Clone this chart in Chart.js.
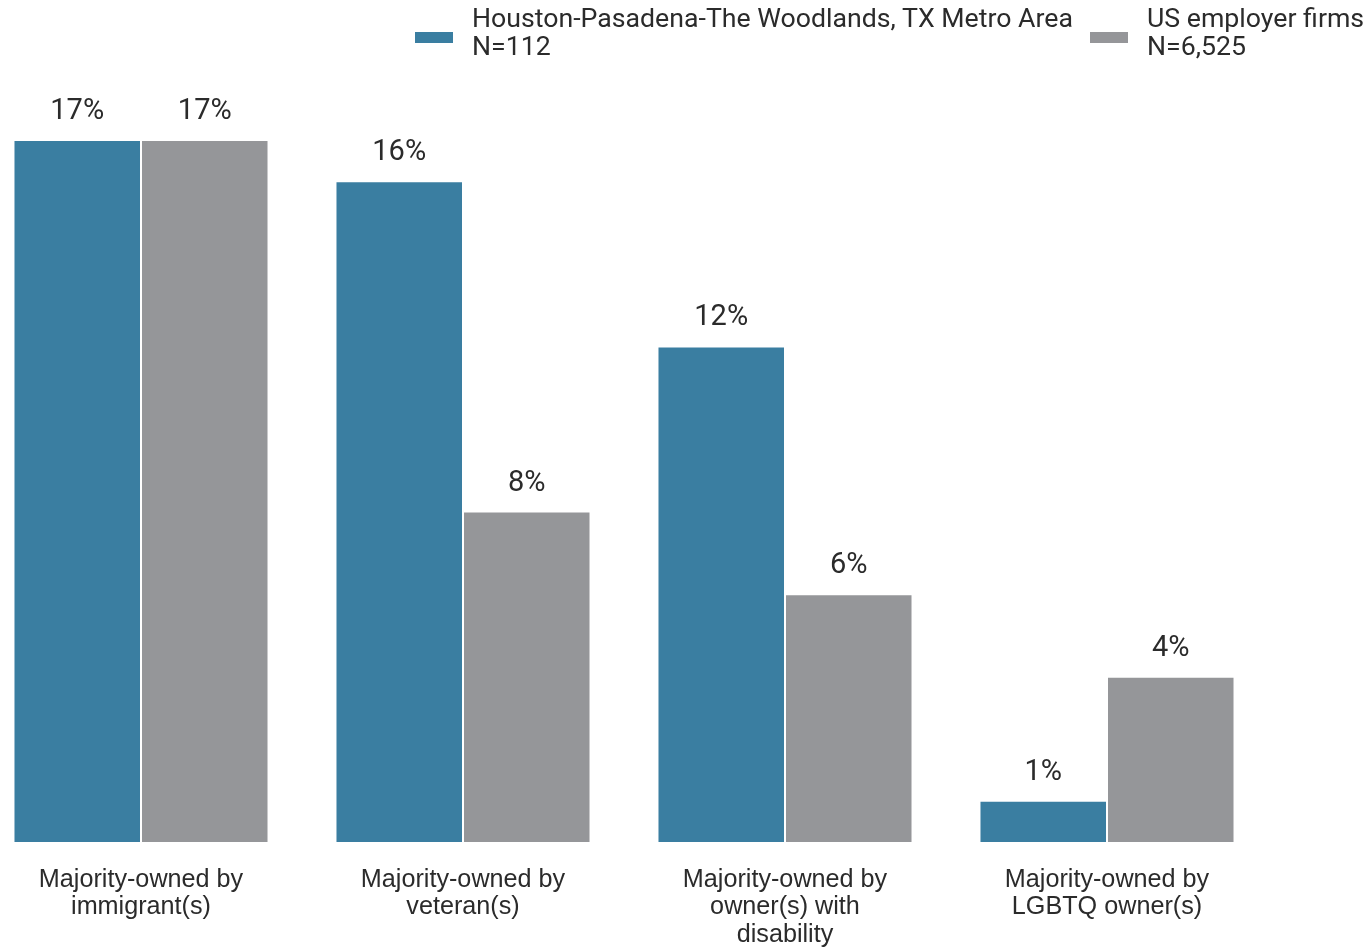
<!DOCTYPE html>
<html>
<head>
<meta charset="utf-8">
<script src="https://cdn.jsdelivr.net/npm/chart.js@4/dist/chart.umd.min.js"></script>
<style>
  html, body { margin: 0; padding: 0; background: #fff; width: 1370px; height: 947px; overflow: hidden; position: relative; }
  #wrap { position: absolute; left: -20px; top: 0; width: 1390px; height: 947px; }
  .leg { position: absolute; font-family: Roboto, sans-serif; font-weight: 400; font-size: 26.7px; line-height: 28px; color: #2b2b2b; white-space: nowrap; }
  .box { position: absolute; width: 38px; height: 11px; }
</style>
</head>
<body>
<div id="wrap"><canvas id="c"></canvas></div>
<div id="legend"></div>
<script>
const categories = [
  ["Majority-owned by", "immigrant(s)"],
  ["Majority-owned by", "veteran(s)"],
  ["Majority-owned by", "owner(s) with", "disability"],
  ["Majority-owned by", "LGBTQ owner(s)"]
];
const seriesNames = [
  ["Houston-Pasadena-The Woodlands, TX Metro Area", "N=112"],
  ["US employer firms", "N=6,525"]
];
const houstonValues = [17, 16, 12, 1];
const usValues = [17, 8, 6, 4];
const seriesColors = ["#3a7ea1", "#959699"];

// HTML legend
const legendPos = [{box: 415, text: 472}, {box: 1090, text: 1147}];
const legend = document.getElementById('legend');
seriesNames.forEach((lines, i) => {
  const b = document.createElement('div');
  b.className = 'box';
  b.style.left = legendPos[i].box + 'px';
  b.style.top = '32px';
  b.style.background = seriesColors[i];
  legend.appendChild(b);
  const t = document.createElement('div');
  t.className = 'leg';
  t.style.left = legendPos[i].text + 'px';
  t.style.top = '4px';
  t.innerHTML = lines.join('<br>');
  legend.appendChild(t);
});

const valueLabels = {
  id: 'valueLabels',
  afterDatasetsDraw(chart) {
    const ctx = chart.ctx;
    ctx.save();
    ctx.font = '400 29px Roboto, sans-serif';
    ctx.fillStyle = '#2b2b2b';
    ctx.textAlign = 'center';
    ctx.textBaseline = 'alphabetic';
    chart.data.datasets.forEach((ds, di) => {
      const meta = chart.getDatasetMeta(di);
      meta.data.forEach((bar, i) => {
        ctx.fillText(ds.data[i] + '%', bar.x, bar.y - 21);
      });
    });
    ctx.restore();
  }
};

new Chart(document.getElementById('c'), {
  type: 'bar',
  data: {
    labels: categories,
    datasets: [
      { label: seriesNames[0].join(' '), data: houstonValues, backgroundColor: seriesColors[0], borderColor: '#ffffff', borderWidth: 1 },
      { label: seriesNames[1].join(' '), data: usValues, backgroundColor: seriesColors[1], borderColor: '#ffffff', borderWidth: 1 }
    ]
  },
  options: {
    responsive: true,
    maintainAspectRatio: false,
    animation: false,
    layout: { padding: { top: 16, left: 0, right: 102, bottom: 0 } },
    categoryPercentage: 0.792,
    barPercentage: 1.0,
    plugins: { legend: { display: false }, tooltip: { enabled: false } },
    scales: {
      x: {
        grid: { display: false, drawTicks: false },
        border: { display: false },
        ticks: {
          color: '#2b2b2b',
          font: { family: 'Liberation Sans, Arial, sans-serif', size: 25.2, lineHeight: 1.09 },
          padding: 24,
          maxRotation: 0,
          autoSkip: false
        },
        afterFit(scale) { scale.height = 105; }
      },
      y: {
        display: false,
        min: 0,
        max: 20
      }
    }
  },
  plugins: [valueLabels]
});
</script>
</body>
</html>
